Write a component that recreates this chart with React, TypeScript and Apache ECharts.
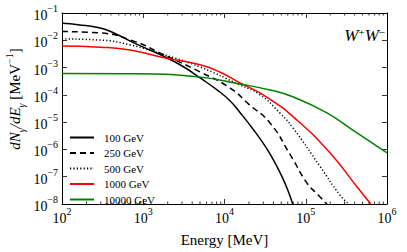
import React, { useEffect, useRef } from 'react';
import * as echarts from 'echarts';

const seriesNames = ['100 GeV', '250 GeV', '500 GeV', '1000 GeV', '10000 GeV'];
const seriesColors = ['#000000', '#000000', '#000000', '#ff0000', '#008000'];

// [Energy (MeV), dN/dE (MeV^-1)]
const spectrum100: [number, number][] = [
  [100, 0.0417], [158, 0.0372], [295, 0.0282], [447, 0.0178], [692, 0.00933],
  [1000, 0.00562], [1862, 0.00245], [3162, 0.00105], [5012, 4.17e-4], [7943, 1.58e-4],
  [11750, 6.0e-5], [15850, 2.09e-5], [22390, 5.6e-6], [31620, 1.32e-6], [39810, 4.2e-7],
  [50120, 1.12e-7], [58880, 3.8e-8], [69180, 1e-8],
];
const spectrum250: [number, number][] = [
  [100, 0.0209], [295, 0.0186], [794, 0.00891], [1622, 0.00339], [5012, 6.9e-4],
  [11750, 1.78e-4], [19950, 4.5e-5], [36310, 9.3e-6], [64570, 6.3e-7], [104700, 5.6e-8],
  [141250, 2.2e-8], [181970, 1e-8],
];
const spectrum500: [number, number][] = [
  [100, 0.0112], [295, 0.0102], [692, 0.00676], [1862, 0.00288], [5012, 0.00105],
  [15490, 2.29e-4], [27540, 1.0e-4], [47860, 2.19e-5], [69180, 6.3e-6], [151400, 2.29e-7],
  [263000, 2.14e-8], [338800, 1e-8],
];
const spectrum1000: [number, number][] = [
  [100, 0.00617], [295, 0.0056], [692, 0.00437], [1862, 0.00224], [5012, 0.00126],
  [8710, 6.9e-4], [15490, 2.75e-4], [33110, 8.3e-5], [77620, 1.2e-5], [199500, 7.4e-7],
  [426600, 4.3e-8], [631000, 1e-8],
];
const spectrum10000: [number, number][] = [
  [100, 6.0e-4], [692, 5.9e-4], [4571, 4.6e-4], [15490, 2.5e-4], [36310, 1.51e-4],
  [69180, 8.5e-5], [182000, 2.19e-5], [380000, 5.1e-6], [1000000, 7.4e-7],
];
const spectra = [spectrum100, spectrum250, spectrum500, spectrum1000, spectrum10000];
const lineTypes: any[] = ['solid', [6, 4], [1.2, 2.2], 'solid', 'solid'];

const xMin = 1e2;
const xMax = 1e6;
const yMin = 1e-8;
const yMax = 1e-1;

const xMinorTicks: number[] = [];
for (let k = 2; k < 6; k++) for (let m = 2; m <= 9; m++) xMinorTicks.push(m * Math.pow(10, k));
const yMinorTicks: number[] = [];
for (let k = -8; k < -1; k++) for (let m = 2; m <= 9; m++) yMinorTicks.push(m * Math.pow(10, k));

const FONT = "'Liberation Serif', 'Times New Roman', serif";

const powRich = {
  b: { fontFamily: FONT, fontSize: 14, fontWeight: 'normal', color: '#000', lineHeight: 19, verticalAlign: 'bottom' },
  e: { fontFamily: FONT, fontSize: 10, fontWeight: 'normal', color: '#000', lineHeight: 19, verticalAlign: 'top' },
};
const powLabel = (v: number) => {
  const p = Math.round(Math.log10(v));
  return `{b|10}{e|${p < 0 ? '\u2212' + -p : p}}`;
};

export default function App() {
  const ref = useRef<HTMLDivElement>(null);
  useEffect(() => {
    const chart = echarts.init(ref.current!, undefined, { renderer: 'svg' });
    const grid = { left: 62, right: 20, top: 13, bottom: 48 };
    const minorRender = (isX: boolean) => (params: any, api: any) => {
      const v = api.value(0);
      const len = 2.5;
      if (isX) {
        const pb = api.coord([v, yMin]);
        const pt = api.coord([v, yMax]);
        return {
          type: 'group',
          children: [
            { type: 'line', shape: { x1: pb[0], y1: pb[1], x2: pb[0], y2: pb[1] - len }, style: { stroke: '#000', lineWidth: 0.8 } },
            { type: 'line', shape: { x1: pt[0], y1: pt[1], x2: pt[0], y2: pt[1] + len }, style: { stroke: '#000', lineWidth: 0.8 } },
          ],
        };
      }
      const pl = api.coord([xMin, v]);
      const pr = api.coord([xMax, v]);
      return {
        type: 'group',
        children: [
          { type: 'line', shape: { x1: pl[0], y1: pl[1], x2: pl[0] + len, y2: pl[1] }, style: { stroke: '#000', lineWidth: 0.8 } },
          { type: 'line', shape: { x1: pr[0], y1: pr[1], x2: pr[0] - len, y2: pr[1] }, style: { stroke: '#000', lineWidth: 0.8 } },
        ],
      };
    };
    const axisLine = { show: true, lineStyle: { color: '#000', width: 1 } };
    const axisTick = { show: true, inside: true, length: 5, lineStyle: { color: '#000', width: 0.8 } };
    chart.setOption({
      animation: false,
      backgroundColor: '#fff',
      textStyle: { fontFamily: FONT },
      grid,
      xAxis: [
        {
          type: 'log', logBase: 10, min: xMin, max: xMax, splitNumber: 4,
          axisLine, axisTick, splitLine: { show: false },
          axisLabel: { formatter: powLabel, rich: powRich, margin: 2, color: '#000', fontFamily: FONT },
          name: 'Energy [MeV]', nameLocation: 'middle', nameGap: 28,
          nameTextStyle: { fontFamily: FONT, fontSize: 15, fontWeight: 'normal', color: '#000' },
        },
        {
          type: 'log', logBase: 10, min: xMin, max: xMax, splitNumber: 4, position: 'top',
          axisLine, axisTick, splitLine: { show: false }, axisLabel: { show: false },
        },
      ],
      yAxis: [
        {
          type: 'log', logBase: 10, min: yMin, max: yMax, splitNumber: 7,
          axisLine, axisTick, splitLine: { show: false },
          axisLabel: { formatter: powLabel, rich: powRich, margin: 4, color: '#000', fontFamily: FONT },
        },
        {
          type: 'log', logBase: 10, min: yMin, max: yMax, splitNumber: 7, position: 'right',
          axisLine, axisTick, splitLine: { show: false }, axisLabel: { show: false },
        },
      ],
      legend: {
        orient: 'vertical', left: 69, top: 132, padding: 0,
        itemWidth: 24, itemHeight: 10, itemGap: 4.5,
        data: seriesNames,
        itemStyle: { opacity: 0 },
        textStyle: { fontFamily: FONT, fontSize: 11, color: '#000', padding: [0, 0, 0, 5] },
      },
      graphic: [
        {
          type: 'text', right: 22, top: 26,
          style: {
            text: '{i|W}{s|+}{i|W}{s|\u2212}',
            rich: {
              i: { fontFamily: FONT, fontStyle: 'italic', fontSize: 17, lineHeight: 18, verticalAlign: 'bottom', fill: '#000', color: '#000' },
              s: { fontFamily: FONT, fontSize: 11, lineHeight: 13, verticalAlign: 'top', fill: '#000', color: '#000' },
            },
          },
        },
        {
          type: 'text', x: 15, y: 99, rotation: Math.PI / 2,
          style: {
            text: '{i|dN}{sub|\u03b3}{i|/dE}{sub|\u03b3}{n| [MeV}{sup|\u22121}{n|]}',
            align: 'center', verticalAlign: 'middle',
            rich: {
              i: { fontFamily: FONT, fontStyle: 'italic', fontSize: 15, lineHeight: 22, verticalAlign: 'middle', fill: '#000', color: '#000' },
              n: { fontFamily: FONT, fontSize: 15, lineHeight: 22, verticalAlign: 'middle', fill: '#000', color: '#000' },
              sub: { fontFamily: FONT, fontStyle: 'italic', fontSize: 10, lineHeight: 22, verticalAlign: 'bottom', fill: '#000', color: '#000' },
              sup: { fontFamily: FONT, fontSize: 10, lineHeight: 22, verticalAlign: 'top', fill: '#000', color: '#000' },
            },
          },
        },
      ],
      series: [
        ...spectra.map((d, i) => ({
          type: 'line', name: seriesNames[i], data: d, symbol: 'none', showSymbol: false,
          smooth: 0.5, color: seriesColors[i],
          lineStyle: { color: seriesColors[i], width: 1.5, type: lineTypes[i] },
          itemStyle: { color: seriesColors[i] },
        })),
        {
          type: 'custom', silent: true, renderItem: minorRender(true),
          data: xMinorTicks.map((v) => [v, yMin]), encode: { x: 0, y: 1 },
        },
        {
          type: 'custom', silent: true, renderItem: minorRender(false),
          data: yMinorTicks.map((v) => [xMin, v]), encode: { x: 0, y: 1 },
        },
      ],
    });
    return () => chart.dispose();
  }, []);
  return <div ref={ref} style={{ position: 'fixed', left: 0, top: 0, width: 407, height: 252 }} />;
}
